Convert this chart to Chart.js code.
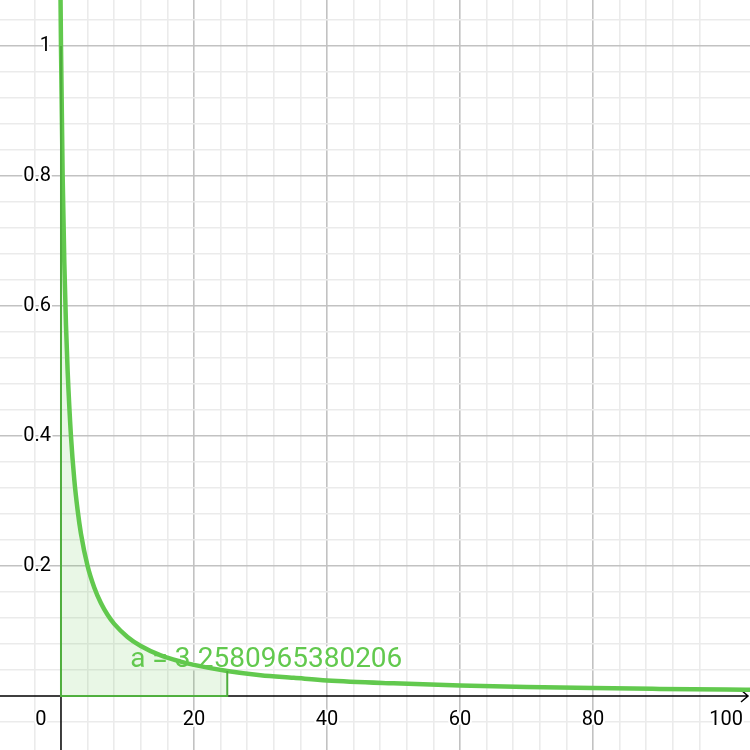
<!DOCTYPE html>
<html>
<head>
<meta charset="utf-8">
<script src="https://cdn.jsdelivr.net/npm/chart.js@4/dist/chart.umd.min.js"></script>
<style>
  html, body { margin: 0; padding: 0; background: #fff; }
  #grafica { display: block; }
</style>
</head>
<body>
<canvas id="grafica" width="750" height="750"></canvas>
<script>
// valores
var curva_x = [-0.08, 0, 0.25, 0.5, 0.75, 1, 1.5, 2, 2.5, 3, 4, 5, 6, 7, 8, 10, 12, 15, 18, 20, 25, 30, 35, 40, 50, 60, 70, 80, 90, 100, 104];
var curva_y = [1.087, 1.0, 0.8, 0.667, 0.571, 0.5, 0.4, 0.333, 0.286, 0.25, 0.2, 0.167, 0.143, 0.125, 0.111, 0.091, 0.077, 0.0625, 0.053, 0.048, 0.0385, 0.032, 0.028, 0.024, 0.0196, 0.0164, 0.0141, 0.0123, 0.011, 0.0099, 0.0095];
var area_desde = 0;
var area_hasta = 25;
var area_texto = "a = 3.2580965380206";
var etiquetas_x = [20, 40, 60, 80, 100];
var etiquetas_y = [0.2, 0.4, 0.6, 0.8, 1];

var x_min = -9.17, x_max = 103.6;
var y_min = -0.083, y_max = 1.0708;

var verde = "#62c94e";
var verde_borde = "#4fae3e";

var puntos_curva = [];
var puntos_area = [];
var i = 0;
while (i < curva_x.length) {
    puntos_curva.push({x: curva_x[i], y: curva_y[i]});
    if (curva_x[i] >= area_desde && curva_x[i] <= area_hasta) {
        puntos_area.push({x: curva_x[i], y: curva_y[i]});
    }
    i++;
}
var y_ini = puntos_area[0].y;
var y_fin = puntos_area[puntos_area.length - 1].y;
var bordes_area = [
    {x: area_desde, y: y_ini},
    {x: area_desde, y: 0},
    {x: area_hasta, y: 0},
    {x: area_hasta, y: y_fin}
];

function esMultiplo(v, paso) {
    var r = v / paso;
    return Math.abs(r - Math.round(r)) < 1e-6;
}

function colorRejilla(paso_mayor, paso_menor) {
    return function(c) {
        var v = c.tick.value;
        if (!esMultiplo(v, paso_menor)) return "rgba(0,0,0,0)";
        if (Math.abs(v) < 1e-9) return "rgba(0,0,0,0)";
        if (esMultiplo(v, paso_mayor)) return "#c2c2c2";
        return "#ebebeb";
    };
}

function textoConHalo(ctx, txt, x, y, color) {
    ctx.lineJoin = "round";
    ctx.lineWidth = 4;
    ctx.strokeStyle = "#ffffff";
    ctx.strokeText(txt, x, y);
    ctx.fillStyle = color;
    ctx.fillText(txt, x, y);
}

// ejes, etiquetas y texto del area
var ejes = {
    id: "ejes",
    beforeDatasetsDraw: function(chart) {
        var ctx = chart.ctx;
        var sx = chart.scales.x, sy = chart.scales.y;
        var x0 = sx.getPixelForValue(0);
        var y0 = sy.getPixelForValue(0);
        ctx.save();
        ctx.strokeStyle = "#000";
        ctx.lineWidth = 1.5;
        ctx.beginPath();
        ctx.moveTo(0, y0);
        ctx.lineTo(748, y0);
        ctx.moveTo(741, y0 - 6);
        ctx.lineTo(748, y0);
        ctx.lineTo(741, y0 + 6);
        ctx.moveTo(x0, 0);
        ctx.lineTo(x0, 750);
        ctx.stroke();

        ctx.font = "20px Roboto";
        ctx.textBaseline = "middle";
        ctx.textAlign = "right";
        etiquetas_y.forEach(function(v) {
            textoConHalo(ctx, String(v), x0 - 10, sy.getPixelForValue(v), "#000");
        });
        ctx.textAlign = "center";
        etiquetas_x.forEach(function(v) {
            textoConHalo(ctx, String(v), sx.getPixelForValue(v), y0 + 24, "#000");
        });
        textoConHalo(ctx, "0", x0 - 20, y0 + 24, "#000");

        ctx.font = "28px Roboto";
        ctx.textAlign = "left";
        ctx.textBaseline = "alphabetic";
        textoConHalo(ctx, area_texto, sx.getPixelForValue(10.4), sy.getPixelForValue(0.044), verde);
        ctx.restore();
    }
};

const ctx = document.getElementById('grafica');
const myChart = new Chart(ctx, {
    type: 'scatter',
    data: {
        datasets: [
            {
                label: "area",
                data: puntos_area,
                showLine: true,
                fill: 'origin',
                backgroundColor: "rgba(98,201,78,0.14)",
                borderWidth: 0,
                pointRadius: 0,
                cubicInterpolationMode: 'monotone'
            }, {
                label: "bordes",
                data: bordes_area,
                showLine: true,
                fill: false,
                borderColor: verde_borde,
                borderWidth: 2,
                pointRadius: 0,
                tension: 0
            }, {
                label: "f",
                data: puntos_curva,
                showLine: true,
                fill: false,
                borderColor: verde,
                borderWidth: 4.5,
                pointRadius: 0,
                cubicInterpolationMode: 'monotone'
            }
        ]
    },
    options: {
        responsive: false,
        animation: false,
        maintainAspectRatio: false,
        layout: { padding: 0 },
        plugins: {
            legend: { display: false },
            tooltip: { enabled: false }
        },
        scales: {
            x: {
                type: 'linear',
                min: x_min,
                max: x_max,
                border: { display: false },
                ticks: { display: false, stepSize: 4 },
                grid: { drawTicks: false, lineWidth: 1.6, color: colorRejilla(20, 4) }
            },
            y: {
                type: 'linear',
                min: y_min,
                max: y_max,
                border: { display: false },
                ticks: { display: false, stepSize: 0.04 },
                grid: { drawTicks: false, lineWidth: 1.6, color: colorRejilla(0.2, 0.04) }
            }
        }
    },
    plugins: [ejes]
});
</script>
</body>
</html>
